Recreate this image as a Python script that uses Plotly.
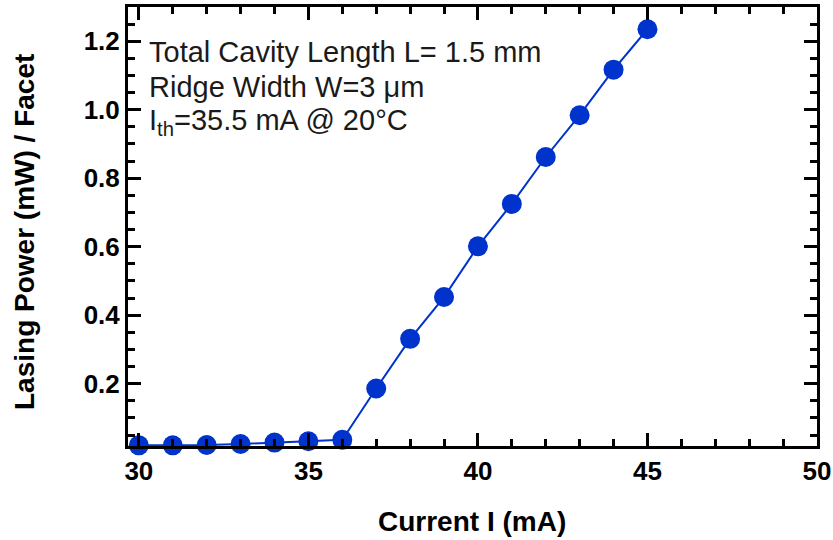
import plotly.graph_objects as go

current_mA = [30, 31, 32, 33, 34, 35, 36, 37, 38, 39, 40, 41, 42, 43, 44, 45]
power_mW = [0.020, 0.020, 0.021, 0.024, 0.028, 0.032, 0.036, 0.186, 0.331, 0.453,
            0.601, 0.725, 0.862, 0.984, 1.117, 1.235]

x_ticks = [30, 35, 40, 45, 50]
y_ticks = [0.2, 0.4, 0.6, 0.8, 1.0, 1.2]
y_tick_labels = ["0.2", "0.4", "0.6", "0.8", "1.0", "1.2"]

x_title = "Current I (mA)"
y_title = "Lasing Power (mW) / Facet"
annotation_lines = ["Total Cavity Length L= 1.5 mm",
                    "Ridge Width W=3 \u03bcm",
                    "I<sub>th</sub>=35.5 mA @ 20\u00b0C"]

color = "#0033CC"
font_family = "Liberation Sans, Arial, sans-serif"

fig = go.Figure()
fig.add_trace(go.Scatter(
    x=current_mA, y=power_mW, mode="lines+markers",
    line=dict(color=color, width=2),
    marker=dict(color=color, size=20),
    cliponaxis=False, showlegend=False,
))

axis_common = dict(
    showgrid=False, zeroline=False, showline=True, linecolor="black", linewidth=3,
    mirror="allticks", ticks="inside", tickcolor="black", tickwidth=3, ticklen=13,
    tickfont=dict(family=font_family, size=26, color="black", weight="bold"),
    automargin=False,
)

fig.update_xaxes(
    range=[29.68, 50], tickvals=x_ticks,
    minor=dict(dtick=1, ticks="inside", ticklen=7, tickwidth=3, tickcolor="black"),
    **axis_common,
)
fig.update_yaxes(
    range=[0.018, 1.3], tickvals=y_ticks, ticktext=y_tick_labels,
    minor=dict(dtick=0.05, tick0=0, ticks="inside", ticklen=7, tickwidth=3, tickcolor="black"),
    **axis_common,
)

# axis titles
fig.add_annotation(
    xref="paper", yref="paper", x=0.499, y=-0.171, xanchor="center", yanchor="middle",
    text="<b>" + x_title + "</b>", showarrow=False,
    font=dict(family=font_family, size=28, color="black"),
)
fig.add_annotation(
    xref="paper", yref="paper", x=-0.1495, y=0.4875, xanchor="center", yanchor="middle",
    text="<b>" + y_title + "</b>", showarrow=False, textangle=-90,
    font=dict(family=font_family, size=28, color="black"),
)

# info text lines
line_y = [0.8975, 0.8178, 0.7390]
for txt, yy in zip(annotation_lines, line_y):
    fig.add_annotation(
        xref="paper", yref="paper", x=0.0276, y=yy, xanchor="left", yanchor="middle",
        text=txt, align="left", showarrow=False,
        font=dict(family=font_family, size=29, color="#1a1a1a"),
    )

fig.update_layout(
    width=833, height=540, margin=dict(l=128, r=16, t=7, b=94),
    plot_bgcolor="white", paper_bgcolor="white",
)

fig.write_html(
    "out.html",
    config={"displayModeBar": False},
    post_script="document.body.style.margin='0';document.body.style.overflow='hidden';",
)
